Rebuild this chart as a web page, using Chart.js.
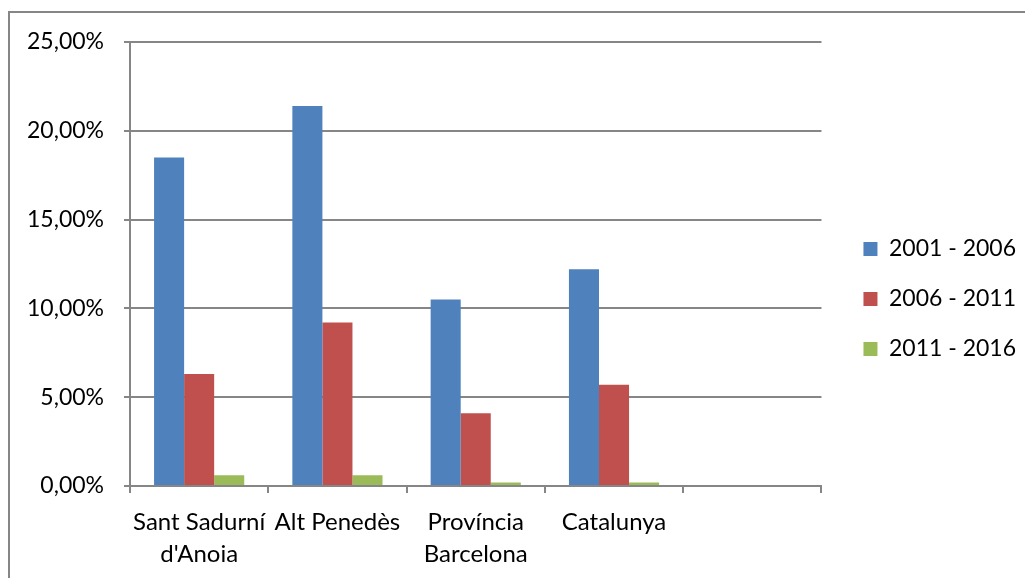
<!DOCTYPE html>
<html>
<head>
<meta charset="utf-8">
<script src="https://cdn.jsdelivr.net/npm/chart.js@4"></script>
<style>
  html, body { margin: 0; padding: 0; background: #fff; overflow: hidden; }
  #frame { position: absolute; left: 8px; top: 11px; width: 1200px; height: 700px;
           border-left: 2px solid #868686; border-top: 2px solid #868686; }
  #wrap { position: absolute; left: 0; top: 0; width: 1025px; height: 578px; }
</style>
</head>
<body>
<div id="frame"></div>
<div id="wrap"><canvas id="chart" width="1025" height="578"></canvas></div>
<script>
const categories = [["Sant Sadurní", "d'Anoia"], "Alt Penedès", ["Província", "Barcelona"], "Catalunya", ""];
const seriesNames = ["2001 - 2006", "2006 - 2011", "2011 - 2016"];
const period2001 = [18.5, 21.4, 10.5, 12.2, null];
const period2006 = [6.3, 9.2, 4.1, 5.7, null];
const period2011 = [0.6, 0.6, 0.2, 0.2, null];
const seriesColors = ["#4F81BD", "#C0504D", "#9BBB59"];

const fontFamily = "Lato, 'Liberation Sans', sans-serif";
const gridColor = "#868686";

const values = [period2001, period2006, period2011];
const datasets = values.map((data, i) => ({
    label: seriesNames[i],
    data: data,
    backgroundColor: seriesColors[i],
    borderWidth: 0,
    barPercentage: 1.0,
    categoryPercentage: 0.652
}));

// nudge the legend to where Excel put it
const legendShift = {
    id: 'legendShift',
    afterLayout(chart) {
        const lg = chart.legend;
        lg.left += 15; lg.right += 15;
        lg.top -= 11; lg.bottom -= 11;
    }
};

const ctx = document.querySelector("#chart").getContext('2d');
new Chart(ctx, {
    type: 'bar',
    data: { labels: categories, datasets },
    plugins: [legendShift],
    options: {
        responsive: false,
        animation: false,
        layout: { padding: { top: 42, left: 0, right: 14, bottom: 0 } },
        plugins: {
            legend: {
                position: 'right',
                labels: {
                    color: '#000',
                    font: { family: fontFamily, size: 23 },
                    boxWidth: 14,
                    boxHeight: 14,
                    padding: 27
                }
            },
            tooltip: { enabled: false }
        },
        scales: {
            x: {
                offset: true,
                border: { color: gridColor, width: 2 },
                grid: { offset: true, drawOnChartArea: false, color: gridColor, lineWidth: 2, tickLength: 7 },
                ticks: {
                    color: '#000',
                    font: { family: fontFamily, size: 24, lineHeight: 1.33 },
                    padding: 13,
                    maxRotation: 0,
                    autoSkip: false
                },
                afterFit: scale => { scale.height = 92; }
            },
            y: {
                min: 0,
                max: 25,
                border: { color: gridColor, width: 2 },
                grid: { color: gridColor, lineWidth: 2, tickLength: 6 },
                ticks: {
                    stepSize: 5,
                    color: '#000',
                    font: { family: fontFamily, size: 23 },
                    padding: 20,
                    callback: v => v.toFixed(2).replace('.', ',') + '%'
                },
                afterFit: scale => { scale.width = 130; }
            }
        }
    }
});
</script>
</body>
</html>
